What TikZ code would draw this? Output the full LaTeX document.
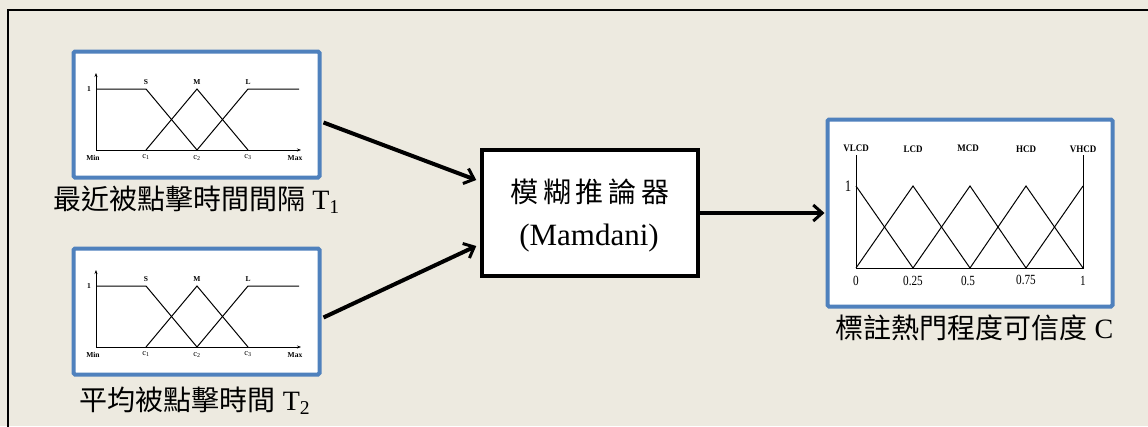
\documentclass[tikz,border=0pt]{standalone}
\usepackage{fontspec}
\setmainfont{Liberation Serif}
\newfontfamily\cjk{Noto Sans CJK TC}
\usetikzlibrary{arrows.meta,calc}
\definecolor{bgbeige}{HTML}{EDEAE0}
\definecolor{boxblue}{HTML}{4F81BD}
\tikzset{
  mfbox/.style={draw=boxblue,line width=4pt,fill=white,rounded corners=1.5pt,inner sep=0pt},
  infbox/.style={draw=black,line width=3.5pt,fill=white,inner sep=0pt,minimum width=216pt,minimum height=126pt},
  flow/.style={line width=4pt,-{Straight Barb[length=9pt,width=16pt,line width=3pt]}},
  mf/.style={line width=1pt,line join=miter},
  axis/.style={line width=1pt,-{Stealth[length=4pt,width=3pt]}},
  tinyb/.style={font=\fontsize{7.5}{8}\selectfont\bfseries,inner sep=0pt},
  tinyc/.style={font=\fontsize{8.5}{9}\selectfont,inner sep=0pt},
  lblb/.style={font=\fontsize{10}{11}\selectfont\bfseries,inner sep=0pt,xscale=0.9},
  num/.style={font=\fontsize{14}{15}\selectfont,inner sep=0pt,xscale=0.8},
  caption/.style={font=\fontsize{28}{30}\selectfont,inner sep=0pt},
}
\begin{document}
\begin{tikzpicture}[x=1pt,y=-1pt]
\useasboundingbox (0,0) rectangle (1148,426);
\fill[bgbeige] (0,0) rectangle (1148,426);
\draw[line width=2pt,line cap=rect] (8,430) -- (8,10) -- (1152,10);

% boxes
\node[mfbox,minimum width=246pt,minimum height=126pt] (b1) at (196.5,114.5) {};
\node[mfbox,minimum width=246pt,minimum height=126pt] (b2) at (196.5,311.5) {};
\node[mfbox,minimum width=285pt,minimum height=187pt] (b3) at (970,213) {};
\node[infbox] (inf) at (590,213) {};
\node[caption] (t1) at (590,192) {\cjk 模\,糊\,推\,論\,器};
\node[caption,font=\fontsize{31}{32}\selectfont] (t2) at (589,238) {(Mamdani)};

% captions
\node[caption] (c1) at (196.5,200) {{\cjk 最近被點擊時間間隔} T\textsubscript{1}};
\node[caption] (c2) at (195,401) {{\cjk 平均被點擊時間} T\textsubscript{2}};
\node[caption] (c3) at (974.5,328) {{\cjk 標註熱門程度可信度} C};

% arrows
\draw[flow] ($(b1.east)+(2,8)$) -- ($(inf.west)+(-4,-33)$);
\draw[flow] ($(b2.east)+(2,6)$) -- ($(inf.west)+(-4,33)$);
\draw[flow] (inf.east) -- ($(b3.west)+(-1,0)$);

% chart in box 1 and 2
\foreach \dy/\nm in {0/a,197/b}{
  \begin{scope}[yshift=-\dy pt]
    \coordinate (O\nm) at (96,150);
    \draw[axis] (O\nm) -- (96,73);
    \draw[axis] (O\nm) -- (301,150);
    \draw[mf] (96,89) -- (146,89) -- (197,150);
    \draw[mf] (146,150) -- (197,89) -- (248,150);
    \draw[mf] (197,150) -- (248,89) -- (299,89);
    \node[tinyb] (one\nm) at (89,89) {1};
    \node[tinyb] (S\nm) at (146,82) {S};
    \node[tinyb] (M\nm) at (197,82) {M};
    \node[tinyb] (L\nm) at (248,82) {L};
    \node[tinyb] (min\nm) at (93,158) {Min};
    \node[tinyb] (max\nm) at (295,158) {Max};
    \node[tinyc] (ca\nm) at (146,157) {c\textsubscript{1}};
    \node[tinyc] (cb\nm) at (197,158) {c\textsubscript{2}};
    \node[tinyc] (cc\nm) at (248,157) {c\textsubscript{3}};
  \end{scope}
}

% chart in box 3
\draw[mf] (856,155) -- (856,268) -- (1083,268) -- (1083,155);
\draw[mf] (856,186) -- (913,268);
\draw[mf] (856,268) -- (913,186) -- (970,268);
\draw[mf] (913,268) -- (970,186) -- (1026,268);
\draw[mf] (970,268) -- (1026,186) -- (1083,268);
\draw[mf] (1026,268) -- (1083,186);
\node[lblb] (vl) at (856,148) {VLCD};
\node[lblb] (lc) at (913,149) {LCD};
\node[lblb] (mc) at (968,148) {MCD};
\node[lblb] (hc) at (1026,149) {HCD};
\node[lblb] (vh) at (1083,149) {VHCD};
\node[num] (n0) at (856,281) {0};
\node[num] (n1) at (913,281) {0.25};
\node[num] (n2) at (968,281) {0.5};
\node[num] (n3) at (1026,280) {0.75};
\node[num] (n4) at (1083,281) {1};
\node[num,font=\fontsize{16}{17}\selectfont] (yone) at (848,186) {1};
\end{tikzpicture}
\end{document}
